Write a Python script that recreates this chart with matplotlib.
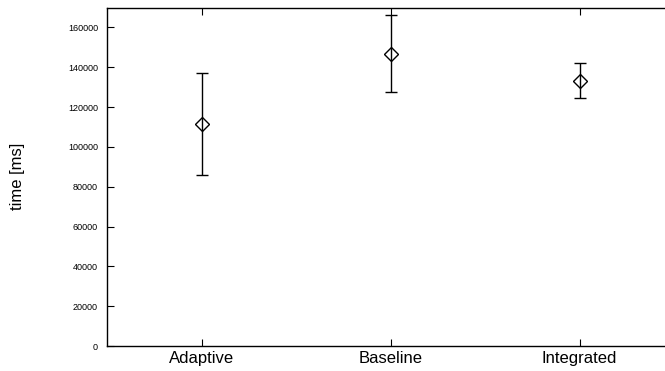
import matplotlib
matplotlib.use("Agg")
import matplotlib.pyplot as plt
import numpy as np

categories = ['Adaptive', 'Baseline', 'Integrated']
mean_ms = [111400, 146800, 133100]
upper_ms = [137000, 166200, 141900]
lower_ms = [85700, 127400, 124500]

plt.rcParams['font.family'] = ['Liberation Sans', 'DejaVu Sans']

fig = plt.figure(figsize=(6.65, 3.71), dpi=100)
ax = fig.add_axes([107 / 665, (371 - 346) / 371, (674 - 107) / 665, (346 - 7.5) / 371])

x = np.arange(1, len(categories) + 1)
mean = np.array(mean_ms)
yerr = [mean - np.array(lower_ms), np.array(upper_ms) - mean]

ax.errorbar(x, mean, yerr=yerr, fmt='none', ecolor='black', elinewidth=1.0,
            capsize=4.6, capthick=1.0)
ax.plot(x, mean, linestyle='none', marker='D', markersize=7.5,
        markerfacecolor='none', markeredgecolor='black', markeredgewidth=1.0)

ax.set_xlim(0.5, 3.5)
ax.set_ylim(0, 170000)
ax.set_xticks(x)
ax.set_xticklabels(categories, fontsize=12)
ax.set_yticks(np.arange(0, 160001, 20000))
ax.tick_params(axis='y', direction='in', length=4.8, width=0.8, labelsize=6.5, pad=6.5)
ax.tick_params(axis='x', direction='in', length=4.8, width=0.8, top=True, pad=3.5)
for side in ['left', 'bottom', 'top']:
    ax.spines[side].set_linewidth(1.0)
ax.spines['right'].set_visible(False)

ax.set_ylabel('time [ms]', fontsize=12, labelpad=31)

fig.savefig('out.png', dpi=100)
